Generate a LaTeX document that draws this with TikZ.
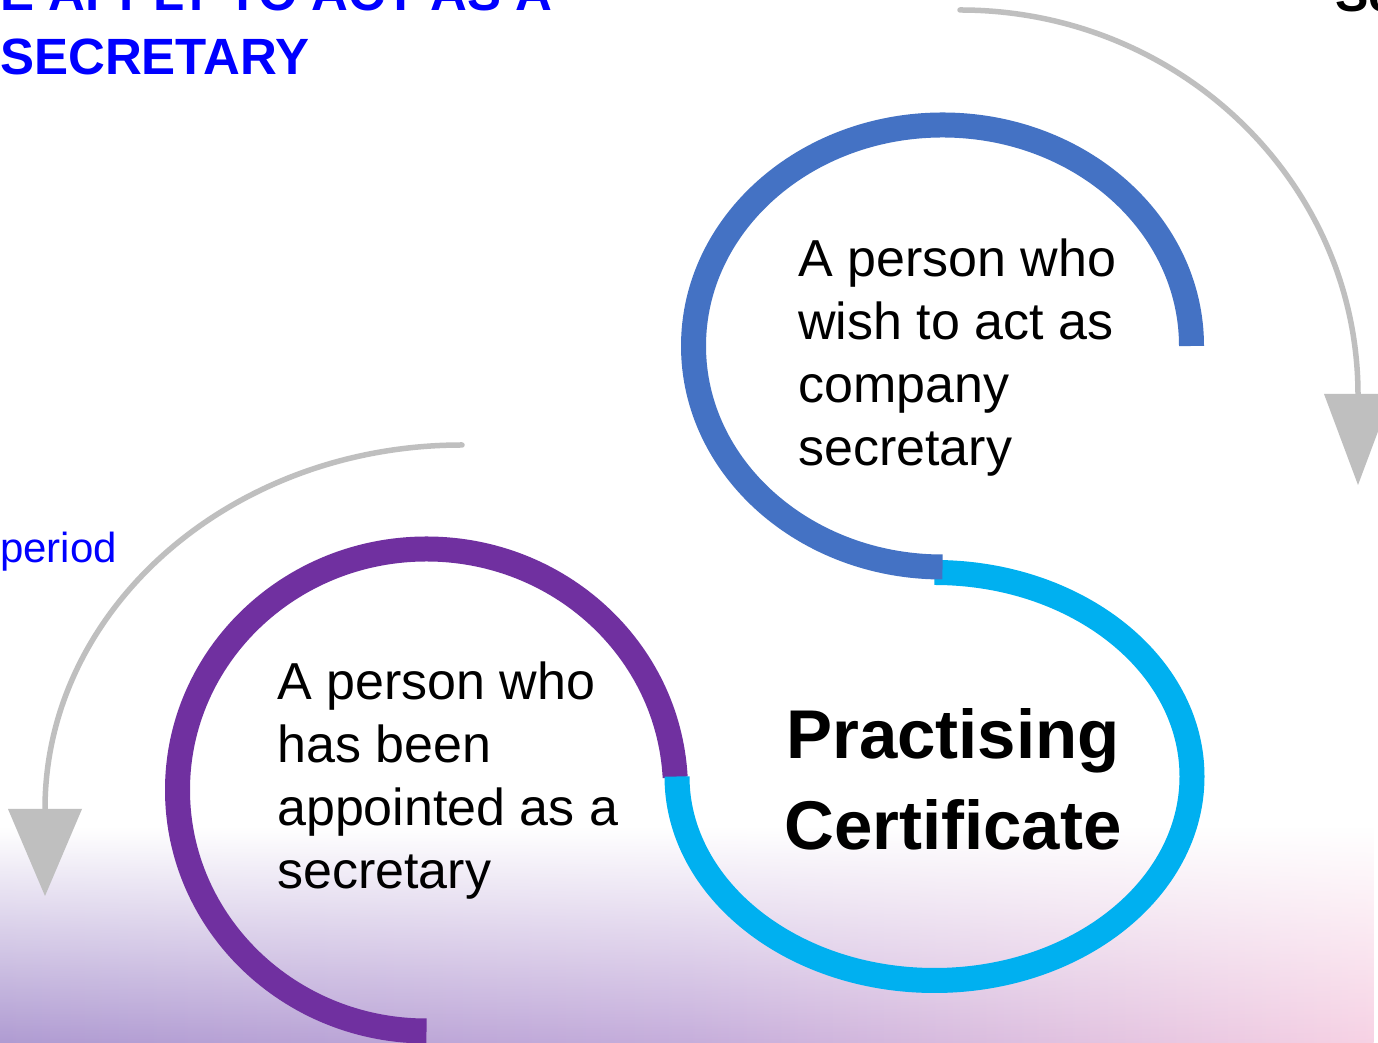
\documentclass[tikz,border=0pt]{standalone}
\usepackage{fontspec}
\setmainfont{Liberation Sans}
\usetikzlibrary{fadings}
\definecolor{arcblue}{HTML}{4472C4}
\definecolor{arccyan}{HTML}{00B0F0}
\definecolor{arcpurple}{HTML}{7030A0}
\definecolor{arrowgray}{HTML}{BFBFBF}
\definecolor{titleblue}{HTML}{0000FF}
\definecolor{bgleft}{RGB}{168,146,206}
\definecolor{bgmid}{RGB}{192,166,216}
\definecolor{bgright}{RGB}{246,206,226}
\tikzfading[name=fadebottom, top color=transparent!100, bottom color=transparent!0]
\begin{document}
\begin{tikzpicture}[x=1pt,y=1pt,
  band/.style={line width=25pt},
  grayline/.style={draw=arrowgray, line width=5.5pt, line cap=round},
  grayhead/.style={fill=arrowgray},
  bodytext/.style={font=\fontsize{52}{63}\selectfont, align=left, anchor=base west, inner sep=0pt},
  certtext/.style={font=\fontsize{69}{91}\selectfont\bfseries, align=center, anchor=base, inner sep=0pt},
  titletext/.style={font=\fontsize{51}{61}\selectfont\bfseries, text=titleblue, anchor=base west, inner sep=0pt},
  bluetext/.style={font=\fontsize{42}{50}\selectfont, text=titleblue, anchor=base west, inner sep=0pt}]
\useasboundingbox (0,0) rectangle (1378,1043);
\begin{scope}
\clip (0,0) rectangle (1378,1043);
\fill[white] (0,0) rectangle (1378,1043);
% background fade at the bottom
\shade[left color=bgleft, right color=bgright, middle color=bgmid, path fading=fadebottom, fit fading=true]
  (0,-20) rectangle (1378,215);
% arcs
\draw[band, arcpurple] (426.5,12) arc[start angle=270, end angle=3, x radius=249, y radius=241];
\draw[band, arccyan] (934.5,470.5) arc[start angle=90, end angle=-180, x radius=257.5, y radius=204];
\draw[band, arcblue] (1191.5,697) arc[start angle=0, end angle=270, x radius=249, y radius=221];
% gray arrows
\coordinate (g1s) at (960,1033);
\coordinate (g1e) at (1358,648);
\draw[grayline] (g1s) arc[start angle=90, end angle=0, x radius=398, y radius=385];
\fill[grayhead] (1324,649) -- (1392,649) -- (1358,558) -- cycle;
\coordinate (g2s) at (462,598);
\coordinate (g2e) at (45,234);
\draw[grayline] (g2s) arc[start angle=90, end angle=180, x radius=417, y radius=364];
\fill[grayhead] (8,234) -- (82,234) -- (45,147) -- cycle;
% texts
\node[titletext] (h1) at (0,1032) {E APPLY TO ACT AS A};
\node[titletext] (h2) at (0,968) {SECRETARY};
\node[bluetext] (per) at (0,480) {period};
\node[font=\fontsize{50}{60}\selectfont\bfseries, anchor=base west, inner sep=0pt] (se) at (1335,1031) {Se};
\node[bodytext] (t1) at (798,577) {A person who\\wish to act as\\company\\secretary};
\node[bodytext] (t2) at (277,154) {A person who\\has been\\appointed as a\\secretary};
\node[certtext] (pc) at (953,193) {Practising\\Certificate};
\end{scope}
\end{tikzpicture}
\end{document}
